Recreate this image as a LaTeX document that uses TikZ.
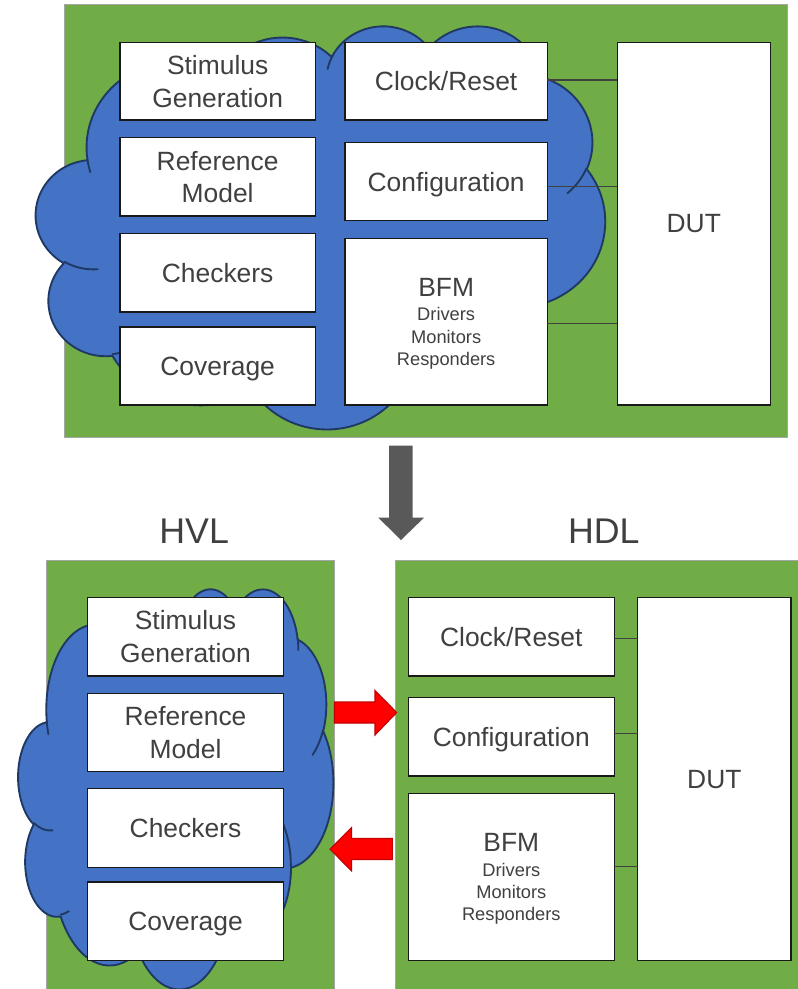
\documentclass[tikz,border=0pt]{standalone}
\usepackage{fontspec}
\setmainfont{Liberation Sans}

\definecolor{bggreen}{HTML}{70AD47}
\definecolor{cloudblue}{HTML}{4472C4}
\definecolor{cloudedge}{HTML}{1F3864}
\definecolor{framegray}{HTML}{A6A6A6}
\definecolor{inktext}{HTML}{404040}
\definecolor{arrowgray}{HTML}{595959}
\definecolor{hotred}{HTML}{FF0000}
\definecolor{redrim}{HTML}{C00000}

\newcommand\bodyfont{\fontsize{19.8}{24.5}\selectfont}
\newcommand\subfont{\fontsize{13.7}{16.7}\selectfont}
\newcommand\headfont{\fontsize{26.8}{30}\selectfont}

% Cloud outline on a 432 x 432 grid: elliptical arcs given by radii and
% visual start/sweep angles, converted to parametric angles for TikZ.
\newcommand\cldarc[5]{%
  \pgfmathsetmacro\cldA{atan2((#2)*sin(#4),(#3)*cos(#4))}%
  \pgfmathsetmacro\cldB{atan2((#2)*sin((#4)+(#5)),(#3)*cos((#4)+(#5)))}%
  \pgfmathsetmacro\cldD{mod(\cldB-(\cldA)+720,360)}%
  \xdef#1{#1 arc[start angle=\cldA, delta angle=\cldD, x radius=#2, y radius=#3]}}
\newcommand\cldhook[6]{\xdef\cldhooks{\cldhooks (#1,#2)}\cldarc\cldhooks{#3}{#4}{#5}{#6}}

\newcommand\cldmain{(39.00,143.70)}
\cldarc\cldmain{67.53}{91.90}{-190.4875}{123.7805}
\cldarc\cldmain{53.33}{72.67}{-144.1024}{89.9452}
\cldarc\cldmain{43.65}{59.45}{-145.8079}{99.7230}
\cldarc\cldmain{48.57}{65.95}{-130.9861}{117.2417}
\cldarc\cldmain{53.33}{72.73}{-78.7089}{109.0269}
\cldarc\cldmain{67.75}{92.20}{-46.2673}{130.2690}
\cldarc\cldmain{57.85}{78.67}{0.6250}{114.0333}
\cldarc\cldmain{67.52}{92.15}{22.4516}{115.1726}
\cldarc\cldmain{77.20}{105.43}{66.2426}{75.7110}
\cldarc\cldmain{43.60}{59.18}{-274.9421}{146.7356}
\cldarc\cldmain{43.45}{59.45}{-246.8285}{152.5189}

\newcommand\cldhooks{}
\cldhook{46.93}{261.77}{43.45}{59.45}{86.7420}{26.4295}
\cldhook{69.28}{348.99}{43.60}{59.18}{73.6105}{11.4475}
\cldhook{164.78}{390.90}{67.52}{92.15}{137.6242}{14.0811}
\cldhook{288.27}{347.51}{67.52}{92.15}{6.4533}{15.9984}
\cldhook{341.29}{229.54}{57.85}{78.67}{-70.2924}{70.9174}
\cldhook{417.98}{153.54}{53.33}{72.73}{30.3180}{27.7515}
\cldhook{383.24}{54.26}{48.57}{65.95}{-13.7443}{14.8589}
\cldhook{290.78}{39.52}{48.57}{65.95}{-149.1815}{18.1954}
\cldhook{221.41}{47.20}{43.65}{59.45}{-163.4943}{17.6864}
\cldhook{140.00}{51.92}{67.53}{91.90}{-66.7070}{12.3194}
\cldhook{41.27}{157.89}{67.53}{91.90}{157.6544}{11.8582}

% Rectangle node spanning two pixel corners (x1,y1) and (x2,y2)
\newcommand\boxnode[7][box]{%
  \pgfmathsetmacro\bxw{((#5)-(#3))*0.75}%
  \pgfmathsetmacro\bxh{((#6)-(#4))*0.75}%
  \pgfmathsetmacro\bxx{((#3)+(#5))/2}%
  \pgfmathsetmacro\bxy{((#4)+(#6))/2}%
  \node[#1, minimum width=\bxw pt, minimum height=\bxh pt] (#2) at (\bxx,\bxy) {#7};}

\begin{document}
\begin{tikzpicture}[
  x=0.75pt, y=-0.75pt,
  panel/.style={draw=framegray, fill=bggreen, line width=0.75pt, inner sep=0pt, outer sep=0pt},
  box/.style={draw=black!90, fill=white, line width=1.1pt, inner sep=0pt, outer sep=0pt,
    text=inktext, font=\bodyfont, align=center, text depth=0pt},
  bfmbox/.style={box, font=\subfont},
  wire/.style={draw=inktext, line width=0.8pt},
  cloudbody/.style={fill=cloudblue, draw=cloudedge, line width=1.4pt, line join=round},
  cloudhook/.style={draw=cloudedge, line width=1.4pt, line cap=round},
  headlabel/.style={text=inktext, font=\headfont, inner sep=0pt, anchor=base},
  bigarrow/.style={fill=arrowgray, draw=none},
  redarrow/.style={fill=hotred, draw=redrim, line width=0.8pt, line join=miter}
]
\useasboundingbox (0,0) rectangle (798,989);
\clip (0,0) rectangle (798,989);

% ---------- combined testbench ----------
\boxnode[panel]{toppanel}{64}{4.3}{787.3}{437.7}{}
\begin{scope}[shift={(36,25)}, x={(1.31713,0)}, y={(0,0.93287)}]
  \path[cloudbody] \cldmain -- cycle;
  \path[cloudhook] \cldhooks;
\end{scope}

\boxnode{stim}{120}{42.3}{315.3}{120}{Stimulus\\Generation}
\boxnode{refm}{120}{137.7}{315.3}{216}{Reference\\Model}
\boxnode{chk}{120}{233.7}{315.3}{312}{Checkers}
\boxnode{cov}{120}{327}{315.3}{405}{Coverage}
\boxnode{clk}{345}{42.3}{547.3}{120}{Clock/Reset}
\boxnode{cfg}{345}{142.7}{547.3}{220.7}{Configuration}
\boxnode[bfmbox]{bfm}{345}{238.3}{547.3}{405}{{\bodyfont BFM}\\[2pt]Drivers\\Monitors\\Responders}
\boxnode{dut}{617.3}{42.3}{770.3}{405}{DUT}

\draw[wire] (clk.east |- 0,80)    -- (dut.west |- 0,80);
\draw[wire] (cfg.east |- 0,186.7) -- (dut.west |- 0,186.7);
\draw[wire] (bfm.east |- 0,323.7) -- (dut.west |- 0,323.7);

% ---------- split arrow ----------
\fill[bigarrow] (389,445.6) -- (412.7,445.6) -- (412.7,517.7) -- (424,517.7)
  -- (401,540) -- (378.3,517.7) -- (389,517.7) -- cycle;

\node[headlabel] (hvllabel) at (194.2,543.3) {HVL};
\node[headlabel] (hdllabel) at (603.8,543.3) {HDL};

% ---------- HVL side ----------
\boxnode[panel]{hvl}{46}{560}{334.3}{1000}{}
\begin{scope}[shift={(18.3,588)}, x={(0.72917,0)}, y={(0,0.92593)}]
  \path[cloudbody] \cldmain -- cycle;
  \path[cloudhook] \cldhooks;
\end{scope}

\boxnode{stimB}{87.7}{597.3}{283.3}{676}{Stimulus\\Generation}
\boxnode{refmB}{87.7}{693.3}{283.3}{771.3}{Reference\\Model}
\boxnode{chkB}{87.7}{788.7}{283.3}{867.3}{Checkers}
\boxnode{covB}{87.7}{882}{283.3}{960.7}{Coverage}

% ---------- HDL side ----------
\boxnode[panel]{hdl}{395}{560}{810}{1000}{}

\boxnode{clkB}{408.3}{597.6}{614.3}{676}{Clock/Reset}
\boxnode{cfgB}{408.3}{697.7}{614.3}{776.1}{Configuration}
\boxnode[bfmbox]{bfmB}{408.3}{793.6}{614.3}{960.3}{{\bodyfont BFM}\\[2pt]Drivers\\Monitors\\Responders}
\boxnode{dutB}{637.7}{597.6}{791}{960.3}{DUT}

\draw[wire] (clkB.east |- 0,638.9) -- (dutB.west |- 0,638.9);
\draw[wire] (cfgB.east |- 0,733.4) -- (dutB.west |- 0,733.4);
\draw[wire] (bfmB.east |- 0,866.5) -- (dutB.west |- 0,866.5);

% ---------- HVL <-> HDL traffic ----------
\path[redarrow] (334.3,702) -- (375,702) -- (375,690.5) -- (396.7,712.5)
  -- (375,735) -- (375,723) -- (334.3,723) -- cycle;
\path[redarrow] (392.3,838.5) -- (351.7,838.5) -- (351.7,827.5) -- (330,849.2)
  -- (351.7,871) -- (351.7,859.5) -- (392.3,859.5) -- cycle;
\end{tikzpicture}
\end{document}
